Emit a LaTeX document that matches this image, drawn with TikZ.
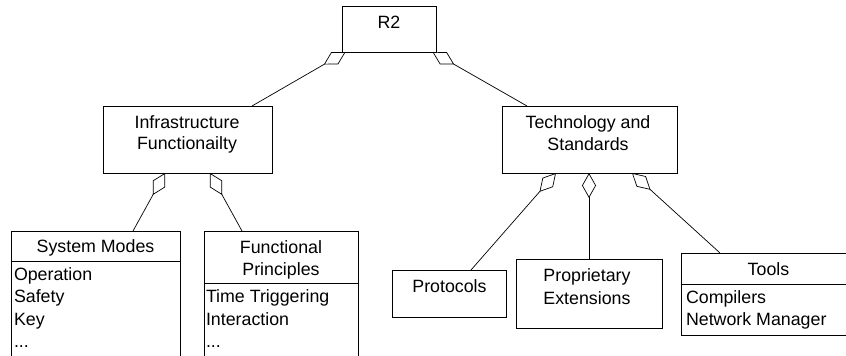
\documentclass[tikz,border=0pt]{standalone}
\usepackage{fontspec}
\setmainfont{Liberation Sans}
\usetikzlibrary{arrows.meta}
\tikzset{
  box/.style={draw=black, line width=0.8pt, inner sep=0pt, outer sep=0pt, anchor=north west, fill=white},
  txt/.style={inner sep=0pt, outer sep=0pt, font=\fontsize{17.8}{22}\selectfont},
  ctr/.style={txt, anchor=base},
  itm/.style={txt, anchor=base west},
  agg/.style={draw=black, line width=0.7pt, {Diamond[open, length=25pt, width=14pt, line width=0.7pt]}-},
  divider/.style={draw=black, line width=0.8pt}
}
\begin{document}
\begin{tikzpicture}[x=1pt, y=-1pt]
\useasboundingbox (0,0) rectangle (846,356);

% boxes
\node[box, minimum width=94pt, minimum height=46pt] (r2) at (342,6) {};
\node[box, minimum width=169pt, minimum height=67pt] (infra) at (103,106) {};
\node[box, minimum width=175pt, minimum height=67pt] (tech) at (502,106) {};
\node[box, minimum width=169pt, minimum height=140pt] (sm) at (11,231) {};
\node[box, minimum width=154pt, minimum height=140pt] (fp) at (204,231) {};
\node[box, minimum width=114pt, minimum height=47pt] (prot) at (392,270) {};
\node[box, minimum width=146pt, minimum height=69pt] (prop) at (516,259) {};
\node[box, minimum width=175pt, minimum height=82pt] (tools) at (681,253) {};

% compartment dividers
\draw[divider] ([yshift=-30pt]sm.north west) -- ([yshift=-30pt]sm.north east);
\draw[divider] ([yshift=-52pt]fp.north west) -- ([yshift=-52pt]fp.north east);
\draw[divider] ([yshift=-31pt]tools.north west) -- ([yshift=-31pt]tools.north east);

% texts
\node[ctr] (r2t) at (389,28) {R2};
\node[ctr] (infra1) at (187,128) {Infrastructure};
\node[ctr] (infra2) at (187,149) {Functionailty};
\node[ctr] (tech1) at (588,128.5) {Technology and};
\node[ctr] (tech2) at (588,150) {Standards};

\node[ctr] (smh) at (95.5,252.7) {System Modes};
\node[itm] (sm1) at (14,280) {Operation};
\node[itm] (sm2) at (14,302.5) {Safety};
\node[itm] (sm3) at (14,325) {Key};
\node[itm] (sm4) at (14,347) {...};

\node[ctr] (fph1) at (281,253) {Functional};
\node[ctr] (fph2) at (281,275) {Principles};
\node[itm] (fp1) at (206,302.5) {Time Triggering};
\node[itm] (fp2) at (206,325) {Interaction};
\node[itm] (fp3) at (206,347) {...};

\node[ctr] (prott) at (449.5,292.5) {Protocols};
\node[ctr] (prop1) at (587,281.5) {Proprietary};
\node[ctr] (prop2) at (587,304) {Extensions};

\node[ctr] (toolsh) at (768.5,275) {Tools};
\node[itm] (tools1) at (686,303) {Compilers};
\node[itm] (tools2) at (686,325) {Network Manager};

% aggregation connectors
\draw[agg] ([xshift=3.5pt]r2.south west) -- ([xshift=-20pt]infra.north east);
\draw[agg] ([xshift=-3.5pt]r2.south east) -- ([xshift=25pt]tech.north west);
\draw[agg] ([xshift=62pt]infra.south west) -- ([xshift=122pt]sm.north west);
\draw[agg] ([xshift=107pt]infra.south west) -- ([xshift=38pt]fp.north west);
\draw[agg] ([xshift=54pt]tech.south west) -- ([xshift=79pt]prot.north west);
\draw[agg] ([xshift=87pt]tech.south west) -- (prop.north);
\draw[agg] ([xshift=130pt]tech.south west) -- ([xshift=39pt]tools.north west);
\end{tikzpicture}
\end{document}
